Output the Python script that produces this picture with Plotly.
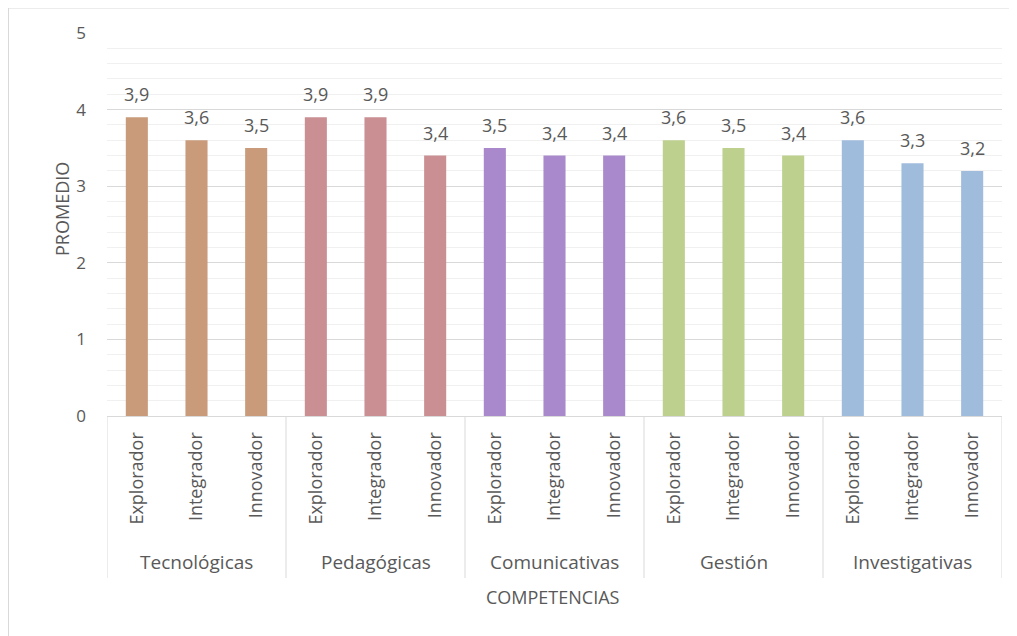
import plotly.graph_objects as go

groups = ["Tecnológicas", "Pedagógicas", "Comunicativas", "Gestión", "Investigativas"]
levels = ["Explorador", "Integrador", "Innovador"]
values = {
    "Tecnológicas": [3.9, 3.6, 3.5],
    "Pedagógicas": [3.9, 3.9, 3.4],
    "Comunicativas": [3.5, 3.4, 3.4],
    "Gestión": [3.6, 3.5, 3.4],
    "Investigativas": [3.6, 3.3, 3.2],
}
colors = ["#C99B7A", "#C98F92", "#A989CB", "#BDD08E", "#A0BCDC"]
y_ticks = [0, 1, 2, 3, 4, 5]

W, H = 1017, 636
# page body has an 8px margin, so figure coords = page coords - 8
ML, MR, MT, MB = 99, 23, 25, 228
plot_h = H - MT - MB
plot_w = W - ML - MR

FONT = "Open Sans"
GRAY = "#595959"

fig = go.Figure()
n = len(levels)
annotations = []
for gi, g in enumerate(groups):
    xs = [gi * n + k for k in range(n)]
    fig.add_trace(go.Bar(
        x=xs, y=values[g], marker=dict(color=colors[gi], line=dict(width=0)),
        width=0.37, showlegend=False, hoverinfo="skip",
    ))
    for xv, yv in zip(xs, values[g]):
        annotations.append(dict(text=f"{yv:.1f}".replace(".", ","), x=xv, y=yv,
                                xref="x", yref="y", showarrow=False,
                                yanchor="bottom", yshift=9,
                                font=dict(family=FONT, size=18, color=GRAY)))

tickvals = list(range(len(groups) * n))
ticktext = levels * len(groups)

shapes = []
sep_len = 162 / plot_h
for gi in range(len(groups) + 1):
    xpos = gi * n - 0.5
    shapes.append(dict(type="line", xref="x", yref="paper", x0=xpos, x1=xpos,
                       y0=0, y1=-sep_len, line=dict(color="#D9D9D9", width=1)))
for gi, g in enumerate(groups):
    annotations.append(dict(text=g, x=gi * n + (n - 1) / 2, xref="x", yref="paper",
                            y=-146 / plot_h, showarrow=False, yanchor="middle",
                            font=dict(family=FONT, size=19, color=GRAY)))
annotations.append(dict(text="COMPETENCIAS", x=(553 - 8 - ML) / plot_w, xref="paper", yref="paper",
                        y=-181 / plot_h, showarrow=False, yanchor="middle",
                        font=dict(family=FONT, size=18, color=GRAY)))
annotations.append(dict(text="PROMEDIO", x=(62 - 8 - ML) / plot_w, xref="paper", yref="paper",
                        y=(H - MB - (209 - 8)) / plot_h, showarrow=False, textangle=-90,
                        xanchor="center", yanchor="middle",
                        font=dict(family=FONT, size=18, color=GRAY)))
# outer chart border (left and top visible)
shapes.append(dict(type="rect", xref="paper", yref="paper",
                   x0=(0.5 - ML) / plot_w, x1=(W + 5 - ML) / plot_w,
                   y0=(H - MB - (H + 5)) / plot_h, y1=(H - MB - 0) / plot_h,
                   line=dict(color="#D9D9D9", width=1), layer="below"))

fig.update_layout(
    width=W, height=H, margin=dict(l=ML, r=MR, t=MT, b=MB),
    paper_bgcolor="white", plot_bgcolor="white",
    separators=",.",
    font=dict(family=FONT, color=GRAY),
    shapes=shapes, annotations=annotations,
    xaxis=dict(range=[-0.5, len(tickvals) - 0.5], tickvals=tickvals, ticktext=ticktext,
               tickangle=-90, tickfont=dict(family=FONT, size=18, color=GRAY),
               showline=True, linecolor="#D9D9D9", linewidth=1, showgrid=False,
               ticks="", ticklabelstandoff=8, zeroline=False, fixedrange=True),
    yaxis=dict(range=[0, 5], tickvals=y_ticks, tickfont=dict(family=FONT, size=17, color=GRAY),
               showgrid=True, gridcolor="#D9D9D9", gridwidth=1, zeroline=False,
               minor=dict(dtick=0.2, showgrid=True, gridcolor="#F0F0F0", gridwidth=1),
               ticks="", ticklabelstandoff=20, fixedrange=True),
)

fig.write_html("out.html")
